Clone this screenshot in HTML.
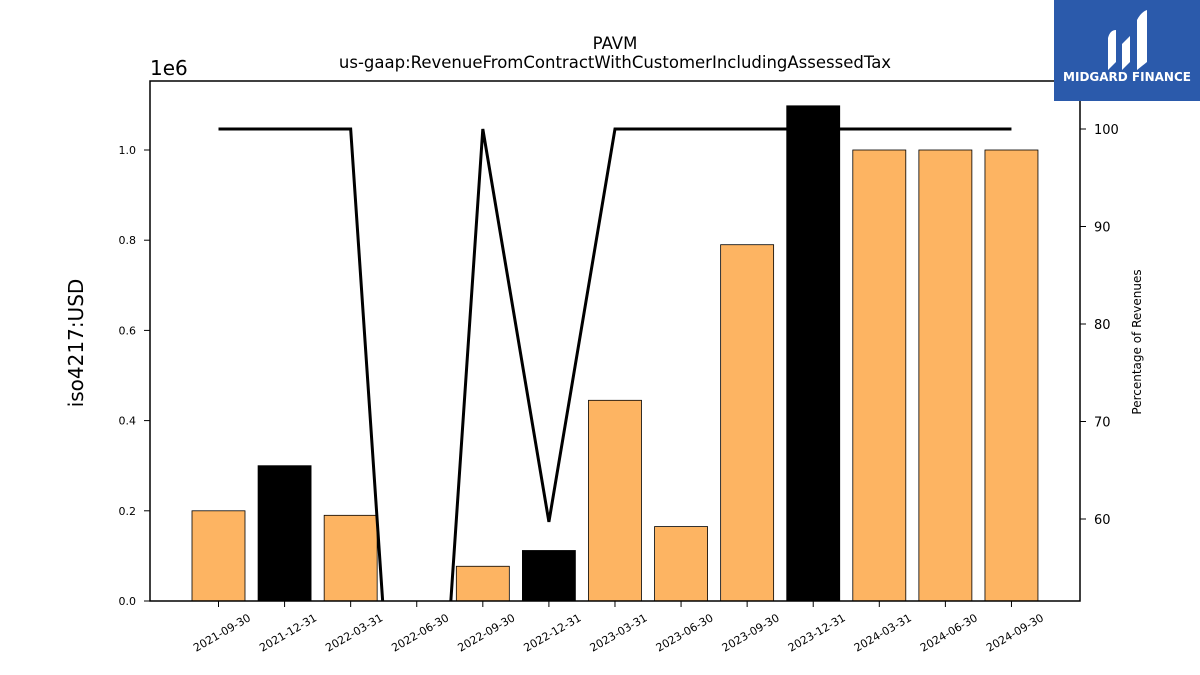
<!DOCTYPE html>
<html><head><meta charset="utf-8"><style>
html,body{margin:0;background:#fff;width:1200px;height:675px;overflow:hidden;}
svg{display:block;font-family:"DejaVu Sans","Liberation Sans",sans-serif;}
</style></head><body>
<svg id="chart" width="1200" height="675" viewBox="0 0 1200 675">
<defs><clipPath id="plotclip"><rect x="150" y="81" width="930" height="520"/></clipPath></defs>
<text x="615" y="49" font-size="16.5" text-anchor="middle">PAVM</text>
<text x="615" y="68" font-size="16.5" text-anchor="middle">us-gaap:RevenueFromContractWithCustomerIncludingAssessedTax</text>
<text x="150" y="75" font-size="20">1e6</text>
<text transform="translate(83,343) rotate(-90)" font-size="20" text-anchor="middle">iso4217:USD</text>
<text transform="translate(1141,342) rotate(-90)" font-size="12" text-anchor="middle">Percentage of Revenues</text>
<g id="bars"></g><g id="line" clip-path="url(#plotclip)"></g><g id="axes"></g>
<rect x="150" y="81" width="930" height="520" fill="none" stroke="#000" stroke-width="1.5"/>
<g>
<rect x="1054" y="0" width="146" height="101" fill="#2b5aab"/>
<path d="M1108 70 L1108 38 Q1110 30 1116 30 L1116 62 Z M1122 70 L1122 44 L1130 36 L1130 62 Z M1137 70 L1137 20 Q1141 12 1147 10 L1147 62 Z" fill="#fff"/>
<text x="1127" y="81" font-size="12" font-weight="bold" fill="#fff" text-anchor="middle">MIDGARD FINANCE</text>
</g>
</svg>
<script>
const categories=["2021-09-30","2021-12-31","2022-03-31","2022-06-30","2022-09-30","2022-12-31","2023-03-31","2023-06-30","2023-09-30","2023-12-31","2024-03-31","2024-06-30","2024-09-30"];
const revenues=[0.2e6,0.3e6,0.19e6,0,0.077e6,0.112e6,0.445e6,0.165e6,0.79e6,1.098e6,1.0e6,1.0e6,1.0e6];
const highlighted=[false,true,false,false,false,true,false,false,false,true,false,false,false];
const percentages=[100,100,100,0,100,59.7,100,100,100,100,100,100,100];
const leftTicks=[0,0.2,0.4,0.6,0.8,1.0];
const rightTicks=[60,70,80,90,100];
const NS="http://www.w3.org/2000/svg";
function xS(i){return 218.5+i*66.08;}
function yL(v){return 601-v/1e6*451;}
function yR(p){return 129+(100-p)*9.75;}
function mk(tag,attrs,parent){const e=document.createElementNS(NS,tag);for(const k in attrs)e.setAttribute(k,attrs[k]);parent.appendChild(e);return e;}
const bars=document.getElementById('bars'),line=document.getElementById('line'),axes=document.getElementById('axes');
revenues.forEach((v,i)=>{if(v<=0)return;const r=mk('rect',{x:xS(i)-26.5,y:yL(v),width:53,height:601-yL(v),fill:highlighted[i]?'#000':'#fdb462',stroke:'#000','stroke-width':0.8},bars);

});
const pl=mk('polyline',{points:percentages.map((p,i)=>xS(i)+','+yR(p)).join(' '),fill:'none',stroke:'#000','stroke-width':3},line);


leftTicks.forEach(t=>{const y=yL(t*1e6);mk('line',{x1:144,x2:150,y1:y,y2:y,stroke:'#000'},axes);
const tx=mk('text',{x:136,y:y+4,'font-size':11,'text-anchor':'end'},axes);tx.textContent=t.toFixed(1);

});
rightTicks.forEach(t=>{const y=yR(t);mk('line',{x1:1080,x2:1086,y1:y,y2:y,stroke:'#000'},axes);
const tx=mk('text',{x:1094,y:y+5,'font-size':13},axes);tx.textContent=t;

});
categories.forEach((c,i)=>{const x=xS(i);mk('line',{x1:x,x2:x,y1:601,y2:607,stroke:'#000'},axes);
const tx=mk('text',{transform:'translate('+(x+33)+',620) rotate(-30)','font-size':11,'text-anchor':'end'},axes);tx.textContent=c;

});
</script>
</body></html>
